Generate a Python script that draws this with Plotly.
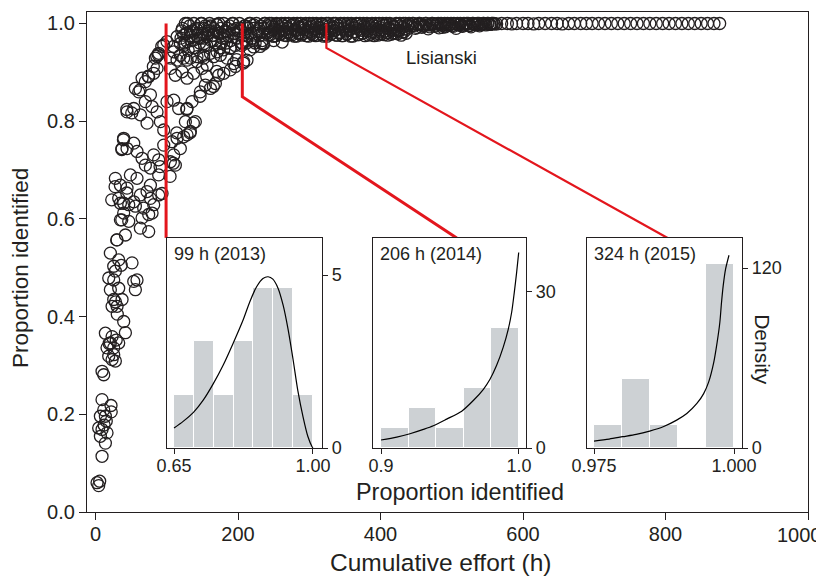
import plotly.graph_objects as go

# ---------------- main scatter data (cumulative effort h, proportion identified) -------------
low_effort = [34.9,46.6,55.9,39.5,34.9,46.6,65.3,74.6,79.3,62.9,74.6,41.9,30.2,20.8,32.5,25.5,51.2,18.5,27.8,25.5,
              58.2,53.6,32.5,20.8,37.2,25.5,23.2,30.2,55.9,39.5,41.9,13.8,23.2,20.8,32.5,16.1,25.5,18.5,23.2,27.8,
              9.1,11.5,25.5,9.1,21.7,11.5,6.8,13.8,4.4,9.1,16.1,6.8,13.8,9.1,2.1,5.8,4.4,28.0,30.5,19.0,
              12.0,15.0,22.0,29.0,36.0]
low_prop = [0.632,0.629,0.626,0.612,0.598,0.595,0.602,0.609,0.612,0.581,0.574,0.567,0.557,0.530,0.516,0.503,0.510,0.479,0.493,0.475,
            0.475,0.472,0.458,0.455,0.435,0.435,0.421,0.421,0.455,0.390,0.367,0.366,0.359,0.346,0.346,0.336,0.336,0.319,0.312,0.309,
            0.288,0.281,0.322,0.230,0.218,0.209,0.196,0.196,0.172,0.169,0.162,0.155,0.141,0.114,0.060,0.063,0.054,0.430,0.405,0.345,
            0.178,0.186,0.205,0.352,0.505]

mid_effort = [27.8,34.9,44.2,32.5,39.5,53.6,62.9,72.3,77.0,67.6,81.6,88.6,93.3,58.2,48.9,88.6,77.0,
              39.5,44.2,53.6,37.2,58.2,65.3,69.9,77.0,81.6,88.6,95.7,107.4,112.0,109.7,123.7,128.4,133.1,114.4,105.0,119.0,
              44.2,53.6,62.9,72.3,69.9,79.3,86.3,91.0,95.7,100.3,109.7,116.7,128.4,135.4,140.1,126.1,147.1,154.1,161.2,168.2,60.6,55.9,69.9,77.0,
              65.3,74.6,81.6,86.3,84.0,88.6,95.7,105.0,112.0,121.4,128.4,137.7,149.5,156.5,172.9,179.9,189.2,196.2,207.9,212.6,
              109.7,119.0,128.4,142.4,151.8,165.8,175.2,184.5,193.9,
              100.3,114.4,123.7,133.1,142.4,151.8,161.2,170.5,109.7,119.0,128.4,137.7,147.1,156.5,165.8,175.2,184.5,193.9,203.2,212.6,221.9,
              105.0,114.4,123.7,133.1,142.4,151.8,161.2,170.5,179.9,189.2,
              104.6,90.5,109.2,132.6,137.3,114.0,128.0,146.7,165.4,156.0,170.0,207.5,198.0,231.0,216.8,235.5,249.5,
              27.4,36.8,29.7,43.8,22.7,39.1,36.8,43.8,50.8,62.5,74.1,81.1,88.1,92.9,85.9,
              205.0,212.0,222.0,236.0,250.0,262.0]
mid_prop = [0.683,0.669,0.663,0.642,0.632,0.635,0.649,0.656,0.642,0.622,0.629,0.649,0.652,0.683,0.690,0.690,0.669,
            0.765,0.744,0.755,0.744,0.738,0.724,0.710,0.704,0.731,0.721,0.751,0.758,0.710,0.731,0.768,0.772,0.779,0.765,0.717,0.744,
            0.819,0.826,0.813,0.796,0.840,0.830,0.819,0.799,0.782,0.840,0.843,0.826,0.826,0.840,0.799,0.799,0.860,0.874,0.867,0.877,0.860,0.867,0.881,0.854,
            0.888,0.891,0.898,0.908,0.929,0.939,0.956,0.908,0.894,0.901,0.888,0.898,0.908,0.915,0.894,0.898,0.905,0.912,0.922,0.925,
            0.942,0.935,0.925,0.922,0.929,0.932,0.935,0.929,0.918,
            0.963,0.973,0.976,0.983,0.987,0.990,0.993,0.997,0.953,0.959,0.963,0.966,0.970,0.973,0.976,0.980,0.983,0.987,0.990,0.993,0.997,
            0.929,0.925,0.929,0.929,0.932,0.935,0.939,0.942,0.946,0.949,
            0.687,0.707,0.714,0.776,0.796,0.776,0.824,0.851,0.871,0.892,0.902,0.919,0.926,0.953,0.946,0.960,0.974,
            0.666,0.598,0.557,0.653,0.639,0.762,0.742,0.824,0.817,0.864,0.892,0.912,0.936,0.953,0.933,
            0.955,0.960,0.952,0.958,0.965,0.962]

band1_effort = [120,122,124,126,128,130,132,134,136,138,140,142,144,146,148,150,152,154,156,158,
                160,162,164,166,168,170,172,174,176,178,180,182,184,186,188,190,192,194,196,198,
                200,202,204,206,208,210,212,214,216,218,220,222,224,226,228,230,232,234,236,238]
band1_prop = [0.97,0.99,0.955,1.0,0.98,0.945,0.995,0.965,0.985,1.0,
              0.95,0.975,0.99,0.96,1.0,0.98,0.97,0.995,0.955,0.985,
              1.0,0.965,0.975,0.99,0.96,0.998,0.98,0.95,0.99,0.97,
              1.0,0.985,0.96,0.975,0.995,0.965,1.0,0.98,0.955,0.99,
              0.97,1.0,0.985,0.96,0.975,0.995,0.965,0.99,1.0,0.98,
              0.97,0.99,0.96,1.0,0.985,0.975,0.995,0.965,0.99,1.0]
band1b_effort = [121,125,129,133,137,141,145,149,153,157,161,165,169,173,177,181,185,189,193,197,
                 201,205,209,213,217,221,225,229,233,237]
band1b_prop = [0.985,0.96,1.0,0.975,0.95,0.99,0.97,1.0,0.955,0.98,
               0.995,0.965,0.985,1.0,0.96,0.975,0.99,0.95,1.0,0.97,
               0.985,0.96,0.995,0.975,1.0,0.965,0.98,0.99,0.96,1.0]

band2_effort = [240,242,244,246,248,250,252,254,256,258,260,262,264,266,268,270,272,274,276,278,
                280,282,284,286,288,290,292,294,296,298,300,302,304,306,308,310,312,314,316,318,
                320,322,324,326,328,330,332,334,336,338,340,342,344,346,348,350,352,354,356,358,
                360,362,364,366,368,370,372,374,376,378,380,382,384,386,388,390,392,394,396,398,
                400,402,404,406,408,410,412,414,416,418,420,422,424,426,428,430,432,434,436,438,440]
band2_prop = [0.99,0.976,1.0,0.984,0.995,0.974,0.988,1.0,0.98,0.993,
              0.978,0.997,0.985,1.0,0.975,0.99,0.982,0.996,0.977,1.0,
              0.987,0.974,0.993,0.981,1.0,0.979,0.991,0.996,0.975,0.986,
              1.0,0.983,0.994,0.977,0.989,1.0,0.976,0.992,0.984,0.998,
              0.974,0.988,1.0,0.981,0.995,0.978,0.99,1.0,0.985,0.976,
              0.996,0.982,1.0,0.975,0.989,0.993,0.979,1.0,0.986,0.974,
              0.997,0.983,0.991,1.0,0.977,0.988,0.995,0.98,1.0,0.975,
              0.992,0.985,0.998,0.978,1.0,0.99,0.982,0.994,0.976,1.0,
              0.987,0.979,0.996,0.984,1.0,0.976,0.991,0.988,0.998,0.98,
              0.993,1.0,0.979,0.986,0.995,0.982,1.0,0.989,0.98,0.997,
              1.0]
band2b_effort = [241,243,245,247,249,251,253,255,257,259,261,263,265,267,269,271,273,275,277,279,
                 281,283,285,287,289,291,293,295,297,299,301,303,305,307,309,311,313,315,317,319,
                 321,323,325,327,329,331,333,335,337,339,341,343,345,347,349,351,353,355,357,359,
                 361,363,365,367,369,371,373,375,377,379,381,383,385,387,389,391,393,395,397,399,
                 401,403,405,407,409,411,413,415,417,419,421,423,425,427,429,431,433,435,437,439]
band2b_prop = [0.981,0.995,0.977,1.0,0.987,0.992,0.975,0.998,0.984,0.979,
               1.0,0.99,0.976,0.994,0.983,1.0,0.978,0.988,0.997,0.974,
               0.985,1.0,0.98,0.992,0.976,0.996,0.987,1.0,0.982,0.974,
               0.993,0.979,1.0,0.986,0.975,0.997,0.983,0.99,1.0,0.977,
               0.988,0.995,0.974,1.0,0.984,0.979,0.993,0.986,1.0,0.976,
               0.99,0.981,0.997,0.975,1.0,0.985,0.978,0.994,0.988,1.0,
               0.974,0.991,0.983,0.998,0.977,1.0,0.986,0.98,0.995,0.989,
               1.0,0.976,0.993,0.982,0.997,0.975,1.0,0.987,0.979,0.992,
               0.984,1.0,0.977,0.996,0.981,0.99,1.0,0.978,0.994,0.986,
               0.98,0.998,0.985,1.0,0.976,0.992,0.983,1.0,0.988,0.995]

band3_effort = [443,446,449,452,455,458,461,464,467,470,473,476,479,482,485,488,491,494,497,500,
                503,506,509,512,515,518,521,524,527,530,533,536,539,542,545,548,551,554,557,560]
band3_prop = [0.995,1.0,0.99,0.998,1.0,0.992,0.996,1.0,0.989,0.997,
              1.0,0.994,0.999,0.991,1.0,0.996,0.993,1.0,0.998,0.995,
              1.0,0.99,0.997,1.0,0.994,0.999,1.0,0.996,0.993,1.0,
              0.998,1.0,0.995,0.999,1.0,0.997,1.0,0.998,1.0,0.999]
band3b_effort = [445,448,451,454,457,460,463,466,469,472,475,478,481,484,487,490,493,496,499,502,
                 505,508,511,514,517,520,523,526,529,532,535,538,541,544,547,550,553,556,559]
band3b_prop = [1.0,0.996,0.992,1.0,0.998,0.994,1.0,0.997,0.993,1.0,
               0.999,0.995,1.0,0.997,0.992,1.0,0.998,0.996,1.0,0.994,
               0.999,1.0,0.997,0.995,1.0,0.998,1.0,0.996,1.0,0.999,
               0.997,1.0,0.998,1.0,0.999,1.0,0.998,1.0,1.0]

tail_effort = [563,570,578,584,591,600,607,615,622,631,640,648,655,664,672,681,689,697,706,715,
               724,733,742,751,760,769,778,787,796,805,814,823,832,841,850,859,868,876]
tail_prop = [0.999,1.0,1.0,0.999,1.0,1.0,1.0,0.999,1.0,1.0,1.0,1.0,0.999,1.0,1.0,1.0,1.0,1.0,1.0,1.0,
             1.0,1.0,1.0,1.0,1.0,1.0,1.0,1.0,1.0,1.0,1.0,1.0,1.0,1.0,1.0,1.0,1.0,1.0]

effort = (low_effort + mid_effort + band1_effort + band1b_effort + band2_effort + band2b_effort
          + band3_effort + band3b_effort + tail_effort)
prop = (low_prop + mid_prop + band1_prop + band1b_prop + band2_prop + band2b_prop
        + band3_prop + band3b_prop + tail_prop)

x_ticks = [0, 200, 400, 600, 800, 1000]
x_tick_labels = ["0", "200", "400", "600", "800", "1000"]

# ---------------- call-out lines (sample efforts) ----------------
callout1_x = [99, 99]
callout1_y = [1.0, 0.561]
callout2_x = [206, 206, 507]
callout2_y = [1.0, 0.85, 0.561]
callout3_x = [324, 324, 803]
callout3_y = [1.0, 0.95, 0.561]

# ---------------- inset histograms (density) and fitted curves ----------------
h1_mid = [0.675, 0.725, 0.775, 0.825, 0.875, 0.925, 0.975]
h1_den = [1.54, 3.08, 1.54, 3.08, 4.62, 4.62, 1.54]
c1_x = [0.650,0.673,0.699,0.724,0.749,0.774,0.799,0.824,0.841,0.858,0.874,0.887,0.899,0.912,0.925,0.937,0.950,0.962,0.975,0.987,0.998,1.0]
c1_y = [0.58,0.77,1.03,1.39,1.86,2.40,3.03,3.70,4.23,4.66,4.90,4.95,4.88,4.62,4.12,3.45,2.55,1.65,0.90,0.34,0.03,0.0]

h2_mid = [0.91, 0.93, 0.95, 0.97, 0.99]
h2_den = [3.85, 7.69, 3.85, 11.54, 23.08]
c2_x = [0.9,0.9114,0.9210,0.9307,0.9379,0.9476,0.9585,0.9669,0.9742,0.9790,0.9838,0.9886,0.9923,0.9947,0.9966,0.9983,0.9998]
c2_y = [1.53,2.10,2.74,3.57,4.27,5.54,7.07,9.11,11.27,13.18,15.86,19.36,22.87,26.05,29.87,33.69,37.52]

h3_mid = [0.9775, 0.9825, 0.9875, 0.9925, 0.9975]
h3_den = [15.38, 46.15, 15.38, 0.0, 123.08]
c3_x = [0.975,0.97771,0.98012,0.98253,0.98494,0.98735,0.98976,0.99157,0.99337,0.99458,0.99548,0.99639,0.99699,0.99747,0.99777,0.99807,0.99849,0.99910]
c3_y = [4.65,5.98,7.53,9.08,11.29,14.17,18.6,23.0,29.7,36.3,44.1,57.3,70.6,83.9,97.2,108.3,119.3,128.6]

inset_titles = ["99 h (2013)", "206 h (2014)", "324 h (2015)"]

FONT = "Liberation Sans, Arial, Helvetica, sans-serif"
INK = "#231f20"
RED = "#e3161d"
BAR = "#cdd1d4"

fig = go.Figure()
fig.add_trace(go.Scatter(x=effort, y=prop, mode="markers", xaxis="x", yaxis="y",
                         marker=dict(symbol="circle-open", size=12, color=INK, line=dict(width=1.3)),
                         hoverinfo="skip"))
for cx, cy, w in [(callout1_x, callout1_y, 3), (callout2_x, callout2_y, 3), (callout3_x, callout3_y, 2.2)]:
    fig.add_trace(go.Scatter(x=cx, y=cy, mode="lines", xaxis="x", yaxis="y",
                             line=dict(color=RED, width=w)))

insets = [(h1_mid, h1_den, 0.05, c1_x, c1_y), (h2_mid, h2_den, 0.02, c2_x, c2_y), (h3_mid, h3_den, 0.005, c3_x, c3_y)]
for i, (hm, hd, bw, cx, cy) in enumerate(insets, start=2):
    fig.add_trace(go.Bar(x=hm, y=hd, width=bw, xaxis=f"x{i}", yaxis=f"y{i}",
                         marker=dict(color=BAR, line=dict(color="white", width=1))))
    fig.add_trace(go.Scatter(x=cx, y=cy, mode="lines", xaxis=f"x{i}", yaxis=f"y{i}",
                             line=dict(color="black", width=1.2, shape="spline", smoothing=0.8)))

ax_common = dict(showgrid=False, zeroline=False, showline=True, mirror=True, linecolor=INK, linewidth=1.2,
                 ticks="outside", tickcolor=INK, tickwidth=1.2, automargin=False, ticklabeloverflow="allow")

# the page body adds an 8 px offset, so the figure margins compensate for it
layout = dict(
    width=824, height=579, margin=dict(l=79, r=24, t=4, b=75, autoexpand=False),
    paper_bgcolor="white", plot_bgcolor="white", showlegend=False, bargap=0,
    font=dict(family=FONT, color=INK),
    xaxis=dict(**ax_common, domain=[0, 1], range=[-12, 1000], tickvals=x_ticks,
               ticktext=x_tick_labels[:-1] + [""],
               ticklen=7, tickfont=dict(size=20), anchor="y", ticklabelstandoff=-3),
    yaxis=dict(**ax_common, domain=[0, 1], range=[0, 1.0235], tickvals=[0, 0.2, 0.4, 0.6, 0.8, 1.0],
               ticktext=["0.0", "0.2", "0.4", "0.6", "0.8", "1.0"], ticklen=7, tickfont=dict(size=20), anchor="x"),
)

xdoms = [[0.1110, 0.3259], [0.3967, 0.6089], [0.6935, 0.9085]]
xranges = [[0.6324, 1.0227], [0.8942, 1.0051], [0.97375, 1.00143]]
yranges = [[0, 6.07], [0, 40.3], [0, 140.1]]
xtv = [([0.65, 1.0], ["0.65", "1.00"]), ([0.9, 1.0], ["0.9", "1.0"]), ([0.975, 1.0], ["0.975", "1.000"])]
ytv = [[0, 5], [0, 30], [0, 120]]
for k in range(3):
    i = k + 2
    layout[f"xaxis{i}"] = dict(**ax_common, domain=xdoms[k], range=xranges[k], anchor=f"y{i}",
                               tickvals=xtv[k][0], ticktext=xtv[k][1], ticklen=5, tickfont=dict(size=18),
                               ticklabelstandoff=-4)
    layout[f"yaxis{i}"] = dict(**ax_common, domain=[0.128, 0.548], range=yranges[k], anchor=f"x{i}",
                               side="right", tickvals=ytv[k], ticklen=5, tickfont=dict(size=18))

fig.update_layout(**layout)

annotations = []
for k, t in enumerate(inset_titles):
    i = k + 2
    annotations.append(dict(text=t, xref=f"x{i} domain", yref=f"y{i} domain", x=0.035, y=0.926,
                            xanchor="left", yanchor="middle", showarrow=False, font=dict(size=18, color=INK)))
annotations += [
    # last x tick label, nudged left so it stays inside the window
    dict(text=x_tick_labels[-1], xref="x", yref="paper", x=x_ticks[-1], y=-0.046, xshift=-9,
         xanchor="center", yanchor="middle", showarrow=False, font=dict(size=20, color=INK)),
    dict(text="Lisianski", xref="x", yref="y", x=486, y=0.93, xanchor="center", yanchor="middle",
         showarrow=False, font=dict(size=18.5, color=INK)),
    dict(text="Density", xref="paper", yref="paper", x=0.936, y=0.324, textangle=90, xanchor="center",
         yanchor="middle", showarrow=False, font=dict(size=21, color=INK)),
    dict(text="Proportion identified", xref="paper", yref="paper", x=0.5173, y=0.04, xanchor="center",
         yanchor="middle", showarrow=False, font=dict(size=23.4, color=INK)),
    dict(text="Proportion identified", xref="paper", yref="paper", x=-0.093, y=0.488, textangle=-90,
         xanchor="center", yanchor="middle", showarrow=False, font=dict(size=22.5, color=INK)),
    dict(text="Cumulative effort (h)", xref="paper", yref="paper", x=0.491, y=-0.1, xanchor="center",
         yanchor="middle", showarrow=False, font=dict(size=24.5, color=INK)),
]
fig.update_layout(annotations=annotations)

fig.write_html("out.html")
